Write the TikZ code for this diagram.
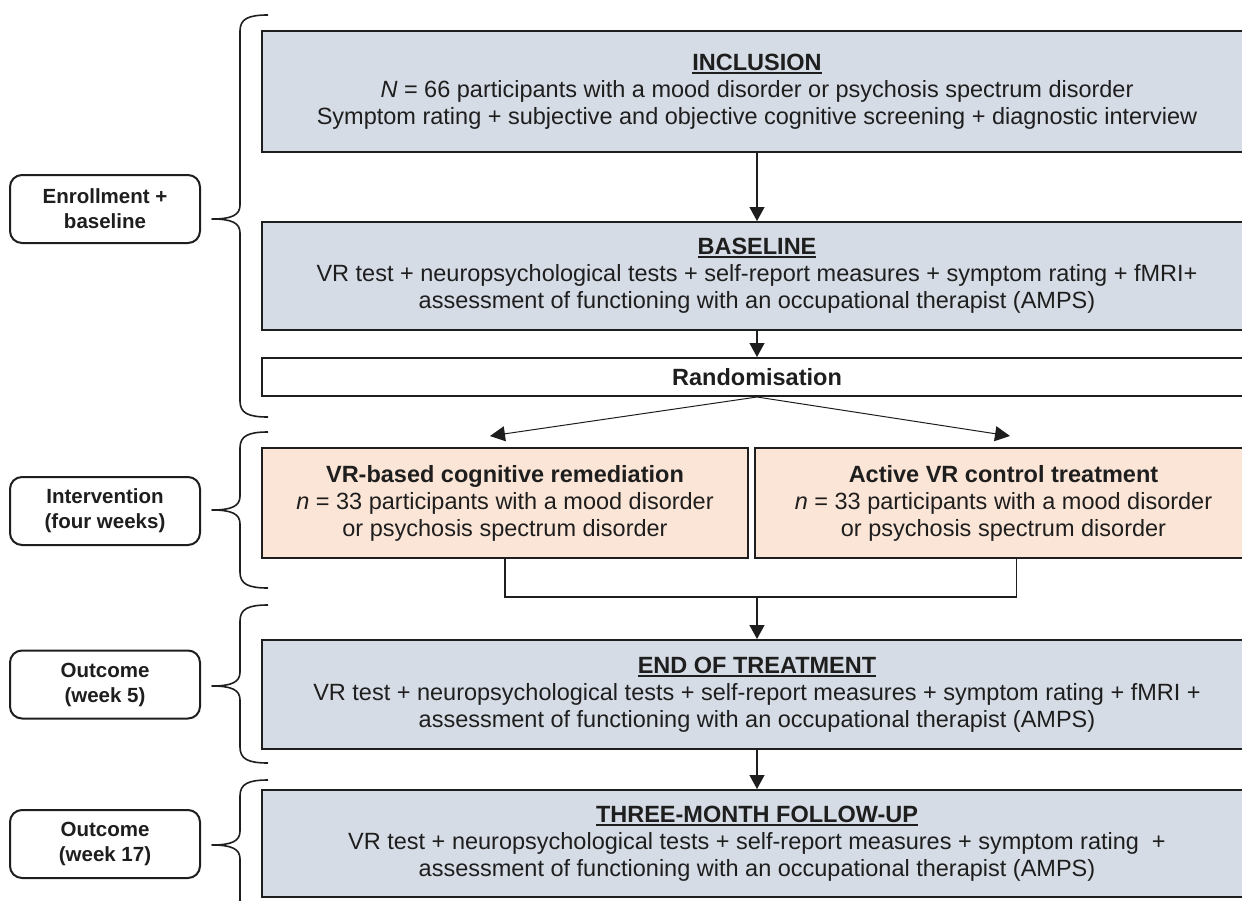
\documentclass[tikz,border=0pt]{standalone}
\usepackage{fontspec}
\setmainfont{Liberation Sans}
\usetikzlibrary{arrows.meta, calc}
\definecolor{C0}{RGB}{214, 220, 229}
\definecolor{C1}{RGB}{251, 229, 214}
\definecolor{C2}{RGB}{30,  30,  30}
\newcommand\stagefont{\fontsize{23.5}{27}\selectfont}
\newcommand\stagetitle[1]{%
  \setbox0\hbox{\textbf{#1}}\leavevmode\rlap{\rule[-3.5pt]{\wd0}{2pt}}\box0}
\tikzset{
  stage/.style 2 args={
    rectangle, draw=C2, line width=2pt, fill=#1,
    minimum height=#2, inner sep=0pt,
    align=center, text=C2, font=\stagefont
  },
  phase/.style={
    rectangle, rounded corners=12pt,
    draw=C2, line width=2pt, fill=white,
    minimum width=190pt, minimum height=68pt,
    align=center, text=C2,
    font=\fontsize{20.5}{25}\selectfont\bfseries
  },
  arr/.style={-{Triangle[length=14pt, width=15pt]}, line width=1.3pt, C2},
  splitarr/.style={-{Triangle[length=15pt, width=15pt]}, line width=1pt, C2},
  conn/.style={line width=1.3pt, C2},
  bracepath/.style={line width=1.6pt, C2, line join=round},
}
% curly brace: top, tip, bottom (y in px)
\newcommand\phasebrace[3]{%
  \draw[bracepath] (268,#1) .. controls (248,#1) and (240,#1+4) .. (240,#1+16)
    -- (240,#2-14) .. controls (240,#2-4) and (232,#2) .. (212,#2)
    .. controls (232,#2) and (240,#2+4) .. (240,#2+14)
    -- (240,#3-16) .. controls (240,#3-4) and (248,#3) .. (268,#3);}

\begin{document}
\begin{tikzpicture}[x=1pt, y=-1pt]

  \useasboundingbox (0,0) rectangle (1242,900);
  \clip (0,0) rectangle (1242,900);

  %% ── Stage boxes ────────────────────────────────────────────────────────────

  \node[stage={C0}{121pt}, minimum width=990pt] (incl) at (757, 91.5)
    {\stagetitle{INCLUSION}\\
     \textit{N} = 66 participants with a mood disorder or psychosis spectrum disorder\\
     Symptom rating + subjective and objective cognitive screening + diagnostic interview};

  \node[stage={C0}{108pt}, minimum width=990pt] (base) at (757, 276)
    {\stagetitle{BASELINE}\\
     VR test + neuropsychological tests + self-report measures + symptom rating + fMRI+\\
     assessment of functioning with an occupational therapist (AMPS)};

  \node[stage={white}{38pt}, minimum width=990pt] (rand) at (757, 377)
    {\textbf{Randomisation}};

  %% ── Treatment arms ─────────────────────────────────────────────────────────

  \node[stage={C1}{110pt}, minimum width=486pt] (vr) at (505, 503)
    {\textbf{VR-based cognitive remediation}\\
     \textit{n} = 33 participants with a mood disorder\\
     or psychosis spectrum disorder};

  \node[stage={C1}{110pt}, minimum width=497pt] (ctrl) at (1003.5, 503)
    {\textbf{Active VR control treatment}\\
     \textit{n} = 33 participants with a mood disorder\\
     or psychosis spectrum disorder};

  %% ── Outcome boxes ──────────────────────────────────────────────────────────

  \node[stage={C0}{109pt}, minimum width=990pt] (eot) at (757, 694.5)
    {\stagetitle{END OF TREATMENT}\\
     VR test + neuropsychological tests + self-report measures + symptom rating + fMRI +\\
     assessment of functioning with an occupational therapist (AMPS)};

  \node[stage={C0}{107pt}, minimum width=990pt] (fup) at (757, 843.5)
    {\stagetitle{THREE-MONTH FOLLOW-UP}\\
     VR test + neuropsychological tests + self-report measures + symptom rating~ +\\
     assessment of functioning with an occupational therapist (AMPS)};

  %% ── Arrows ─────────────────────────────────────────────────────────────────

  \draw[arr] (incl.south) -- (base.north);
  \draw[arr] (base.south) -- (rand.north);

  \draw[splitarr] (rand.south) -- ($(vr.north)+(-15,-11)$);
  \draw[splitarr] (rand.south) -- ($(ctrl.north)+(6.5,-11)$);

  \coordinate (merge) at (757, 597);
  \draw[conn] (vr.south) |- (merge) -| ([xshift=13pt]ctrl.south);
  \draw[arr] (merge) -- (eot.north);

  \draw[arr] (eot.south) -- (fup.north);

  %% ── Phase labels + braces ──────────────────────────────────────────────────

  \node[phase] (enrol) at (105, 209) {Enrollment +\\baseline};
  \node[phase] (interv) at (105, 511) {Intervention\\(four weeks)};
  \node[phase] (wk5) at (105, 684.5) {Outcome\\(week 5)};
  \node[phase] (wk17) at (105, 844) {Outcome\\(week 17)};

  \phasebrace{15}{219}{417}
  \phasebrace{432}{510}{588}
  \phasebrace{605}{686}{763}
  \phasebrace{780}{845}{960}

\end{tikzpicture}
\end{document}
